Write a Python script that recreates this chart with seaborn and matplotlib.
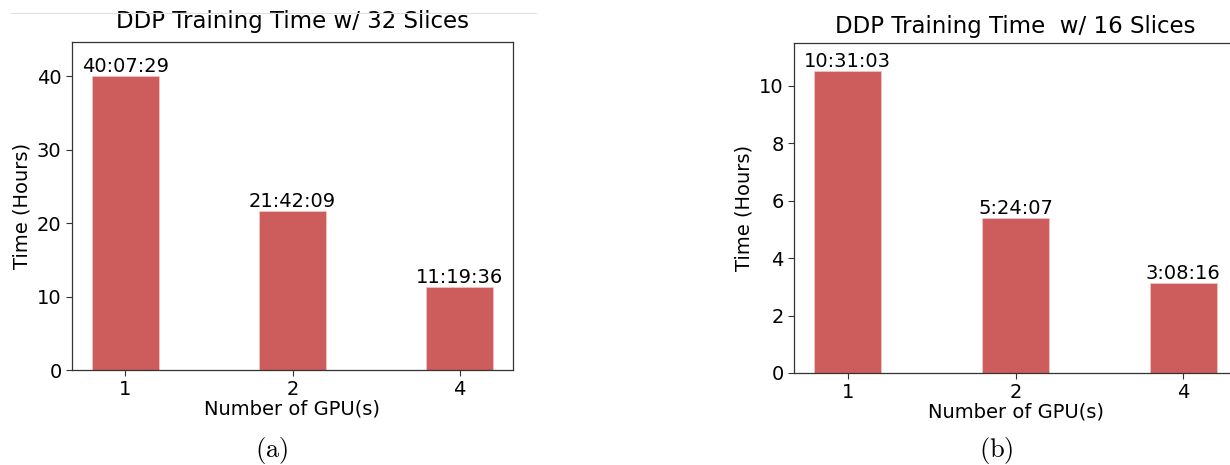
import matplotlib
matplotlib.use("Agg")
import matplotlib.pyplot as plt
from matplotlib.lines import Line2D
import pandas as pd
import seaborn as sns

# Training wall-clock times (H:MM:SS) per GPU count
gpu_counts = ["1", "2", "4"]
times_32_slices = ["40:07:29", "21:42:09", "11:19:36"]
times_16_slices = ["10:31:03", "5:24:07", "3:08:16"]

titles = ["DDP Training Time w/ 32 Slices", "DDP Training Time  w/ 16 Slices"]
captions = ["(a)", "(b)"]
y_limits = [44.7, 11.5]

BAR_COLOR = "#CD5C5C"


def to_hours(stamp):
    h, m, s = (int(p) for p in stamp.split(":"))
    return h + m / 60 + s / 3600


sns.set_style("ticks", {"text.color": "black", "axes.labelcolor": "black",
                        "xtick.color": "black", "ytick.color": "black",
                        "axes.edgecolor": "0.2"})
plt.rcParams["font.family"] = ["DejaVu Sans"]
plt.rcParams["mathtext.fontset"] = "cm"

fig = plt.figure(figsize=(12.3, 4.65), dpi=100)
W, H = 1230, 465

# axes boxes in pixel units: left, top, right, bottom
boxes = [(72, 42, 513, 370), (794, 42.7, 1237, 373)]
caption_x = [272, 996]
title_pads = [10, 7]

for i, (times, title, ylim, box, cap, cx, tpad) in enumerate(
    zip([times_32_slices, times_16_slices], titles, y_limits, boxes, captions,
        caption_x, title_pads)
):
    l, t, r, b = box
    ax = fig.add_axes([l / W, 1 - b / H, (r - l) / W, (b - t) / H])
    df = pd.DataFrame({"gpus": gpu_counts, "hours": [to_hours(s) for s in times]})
    sns.barplot(data=df, x="gpus", y="hours", ax=ax, width=0.4, color=BAR_COLOR,
                saturation=1, edgecolor="#f2c4c4", linewidth=0.6)
    ax.set_xlim(-0.32, 2.32)
    ax.set_ylim(0, ylim)
    for bar, label in zip(ax.patches, times):
        ax.text(bar.get_x() + bar.get_width() / 2, bar.get_height(), label,
                ha="center", va="bottom", fontsize=14, color="black")
    ax.set_title(title, fontsize=16.5, pad=tpad, color="black")
    ax.set_xlabel("Number of GPU(s)", fontsize=14, labelpad=0)
    ax.set_ylabel("Time (Hours)", fontsize=14)
    ax.tick_params(labelsize=14, length=4, color="0.2")
    for side in ["top", "right", "left", "bottom"]:
        ax.spines[side].set_visible(True)
        ax.spines[side].set_color("0.2")
        ax.spines[side].set_linewidth(0.9)
    fig.text(cx / W, 1 - 450 / H, r"$\mathrm{" + cap + "}$", ha="center", va="center",
             fontsize=19, color="black")

# thin rule across the top of the left panel
fig.add_artist(Line2D([11 / W, 536 / W], [1 - 13 / H, 1 - 13 / H],
                      transform=fig.transFigure, color="0.88", linewidth=0.8))

fig.savefig("out.png", dpi=100)
